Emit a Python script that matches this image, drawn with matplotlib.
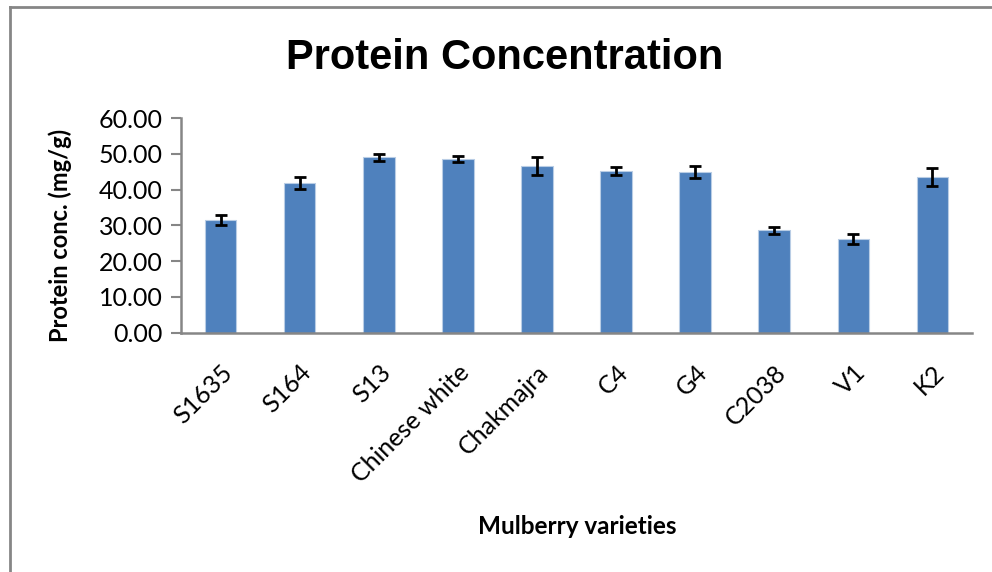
import numpy as np
import matplotlib.pyplot as plt
from matplotlib.lines import Line2D

# Protein concentration of mulberry varieties (mg/g)
varieties = ['S1635', 'S164', 'S13', 'Chinese white', 'Chakmajra',
             'C4', 'G4', 'C2038', 'V1', 'K2']
protein = [31.5, 41.9, 49.0, 48.5, 46.6, 45.3, 45.0, 28.6, 26.3, 43.5]
errors = [1.5, 1.7, 0.9, 0.85, 2.6, 1.1, 1.7, 1.0, 1.4, 2.6]
yticks = [0, 10, 20, 30, 40, 50, 60]

W, H = 992, 572
fig = plt.figure(figsize=(W / 100, H / 100), dpi=100)
ax = fig.add_axes([181 / W, 1 - 332.6 / H, (972 - 181) / W, (332.6 - 118) / H])

x = np.arange(len(varieties))
ax.bar(x, protein, width=0.4, color='#4F81BD', edgecolor='#B9CDE5', linewidth=0.8,
       yerr=errors, capsize=4.5,
       error_kw=dict(ecolor='black', elinewidth=2, capthick=2))

ax.set_xlim(-0.5, len(varieties) - 0.5)
ax.set_ylim(0, 60)
ax.set_yticks(yticks)
ax.set_yticklabels([f'{v:.2f}' for v in yticks], fontsize=18, family='Lato')
ax.set_xticks(x)
ax.set_xticklabels(varieties, rotation=45, ha='right', rotation_mode='anchor',
                   fontsize=18, family='Lato')
ax.tick_params(axis='x', length=0, pad=20)
ax.tick_params(axis='y', length=7, width=1.5, color='#868686', pad=6)

for side in ['top', 'right']:
    ax.spines[side].set_visible(False)
for side in ['left', 'bottom']:
    ax.spines[side].set_color('#868686')
    ax.spines[side].set_linewidth(1.8)

fig.text(505 / W, 1 - 58 / H, 'Protein Concentration', ha='center', va='center',
         fontsize=30, fontweight='bold', family=['Liberation Sans', 'DejaVu Sans'])
fig.text(60 / W, 1 - 235 / H, 'Protein conc. (mg/g)', ha='center', va='center',
         rotation=90, fontsize=17, fontweight='bold', family='Lato')
fig.text(577 / W, 1 - 527 / H, 'Mulberry varieties', ha='center', va='center',
         fontsize=17.5, fontweight='bold', family='Lato')

# outer chart border (left and top edges visible)
fig.add_artist(Line2D([10 / W, 10 / W], [0, 1 - 7 / H], color='#868686', linewidth=2))
fig.add_artist(Line2D([10 / W, 1], [1 - 7 / H, 1 - 7 / H], color='#868686', linewidth=2))

fig.savefig('out.png', dpi=100)
